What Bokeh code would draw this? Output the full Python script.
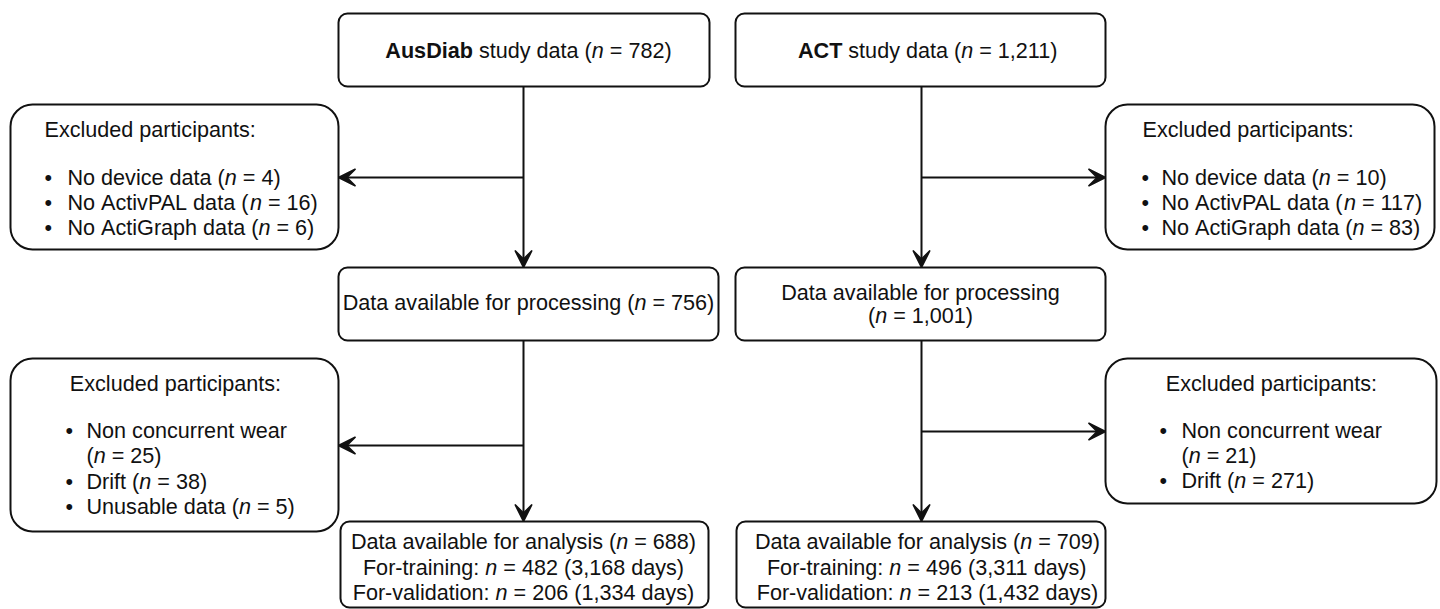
from bokeh.plotting import figure
from bokeh.models import ColumnDataSource, Range1d, Arrow, VeeHead
from bokeh.core.properties import value, field
from bokeh.embed import file_html
from bokeh.resources import INLINE

# ---------------- data ----------------
studies = ["AusDiab", "ACT"]
n_total = [782, 1211]
excl1_reasons = ["No device data", "No ActivPAL data", "No ActiGraph data"]
excl1_ausdiab = [4, 16, 6]
excl1_act = [10, 117, 83]
n_processing = [756, 1001]
excl2_reasons_ausdiab = ["Non concurrent wear", "Drift", "Unusable data"]
excl2_ausdiab = [25, 38, 5]
excl2_reasons_act = ["Non concurrent wear", "Drift"]
excl2_act = [21, 271]
n_analysis = [688, 709]
n_training = [482, 496]
days_training = [3168, 3311]
n_validation = [206, 213]
days_validation = [1334, 1432]

# ---------------- layout ----------------
W, H = 1440, 609
X0, X1 = 0, 1440
Y0, Y1 = 0, 609
SX = W / (X1 - X0)
FS = 21.6
FONT = "Liberation Sans"
INK = "#111111"

NORMAL = {' ': 278, '\u00a0': 278, '(': 333, ')': 333, ',': 278, '-': 333, '.': 278, ':': 278, '=': 584,
          '\u2022': 350,
          'A': 667, 'B': 667, 'C': 722, 'D': 722, 'E': 667, 'F': 611, 'G': 778, 'H': 722, 'I': 278,
          'J': 500, 'K': 667, 'L': 556, 'M': 833, 'N': 722, 'O': 778, 'P': 667, 'Q': 778, 'R': 722,
          'S': 667, 'T': 611, 'U': 722, 'V': 667, 'W': 944, 'X': 667, 'Y': 667, 'Z': 611,
          'a': 556, 'b': 556, 'c': 500, 'd': 556, 'e': 556, 'f': 278, 'g': 556, 'h': 556, 'i': 222,
          'j': 222, 'k': 500, 'l': 222, 'm': 833, 'n': 556, 'o': 556, 'p': 556, 'q': 556, 'r': 333,
          's': 500, 't': 278, 'u': 556, 'v': 500, 'w': 722, 'x': 500, 'y': 500, 'z': 500}
for d in "0123456789":
    NORMAL[d] = 556
BOLD = {'A': 722, 'C': 722, 'D': 722, 'T': 611, 'a': 556, 'b': 611, 'i': 278, 's': 556, 'u': 611}


def seg_w(text, style):
    tot = 0
    for ch in text:
        if style == "bold" and ch in BOLD:
            tot += BOLD[ch]
        else:
            tot += NORMAL.get(ch, 556)
    return tot * FS / 1000 / SX


def line_w(segs):
    return sum(seg_w(t, s) for t, s in segs)


# main boxes: left, right, top, bottom, text centre x, line y positions
main_layout = [
    dict(l=338, r=709, t=13, b=86, cx=528, ys=[50]),
    dict(l=735, r=1105, t=13, b=86, cx=928, ys=[50]),
    dict(l=338, r=718, t=267, b=340, cx=528, ys=[302]),
    dict(l=735, r=1105, t=267, b=340, cx=920, ys=[292, 315]),
    dict(l=340, r=708, t=521, b=607, cx=523, ys=[541, 567, 592]),
    dict(l=736, r=1105, t=521, b=607, cx=927, ys=[541, 567, 592]),
]
excl_layout = [
    dict(l=10, r=338, t=104, b=249, tx=44, talign="left", ty=129, bx=44, x=67, y=177, dy=25),
    dict(l=1105, r=1434, t=104, b=249, tx=1142, talign="left", ty=129, bx=1141, x=1161, y=177, dy=25),
    dict(l=10, r=338, t=358, b=531, tx=175, talign="center", ty=383, bx=65, x=86, y=430, dy=25.3),
    dict(l=1105, r=1436, t=358, b=503, tx=1271, talign="center", ty=383, bx=1159, x=1181, y=430, dy=25),
]
branch_x = [523, 921]
branch_y = [[177, 445], [177, 431]]

# ---------------- texts ----------------
tx, ty, tt, ts = [], [], [], []


def put(segs, x, y, align="left"):
    if align == "center":
        x = x - line_w(segs) / 2
    for t, s in segs:
        tx.append(x); ty.append(y); tt.append(t.replace(" ", "\u00a0")); ts.append(s)
        x += seg_w(t, s)


main_lines = []
for i, st in enumerate(studies):
    main_lines.append([[(st, "bold"), (" study data (", "normal"), ("n", "italic"),
                        (f" = {n_total[i]:,})", "normal")]])
for i, st in enumerate(studies):
    full = [("Data available for processing (", "normal"), ("n", "italic"),
            (f" = {n_processing[i]:,})", "normal")]
    lay = main_layout[2 + i]
    if line_w(full) > (lay["r"] - lay["l"]) - 6:
        main_lines.append([[("Data available for processing", "normal")],
                           [("(", "normal"), ("n", "italic"), (f" = {n_processing[i]:,})", "normal")]])
    else:
        main_lines.append([full])
for i, st in enumerate(studies):
    main_lines.append([
        [("Data available for analysis (", "normal"), ("n", "italic"), (f" = {n_analysis[i]:,})", "normal")],
        [("For-training: ", "normal"), ("n", "italic"),
         (f" = {n_training[i]:,} ({days_training[i]:,} days)", "normal")],
        [("For-validation: ", "normal"), ("n", "italic"),
         (f" = {n_validation[i]:,} ({days_validation[i]:,} days)", "normal")],
    ])

for lay, lines in zip(main_layout, main_lines):
    for segs, y in zip(lines, lay["ys"]):
        put(segs, lay["cx"], y, "center")

excl_items = [
    (excl1_reasons, excl1_ausdiab),
    (excl1_reasons, excl1_act),
    (excl2_reasons_ausdiab, excl2_ausdiab),
    (excl2_reasons_act, excl2_act),
]
for lay, (reasons, counts) in zip(excl_layout, excl_items):
    put([("Excluded participants:", "normal")], lay["tx"], lay["ty"], lay["talign"])
    y = lay["y"]
    for reason, c in zip(reasons, counts):
        put([("\u2022", "normal")], lay["bx"], y)
        full = [(reason + " (", "normal"), ("n", "italic"), (f" = {c:,})", "normal")]
        if lay["x"] + line_w(full) > lay["r"] - 8:
            put([(reason, "normal")], lay["x"], y)
            y += lay["dy"]
            put([("(", "normal"), ("n", "italic"), (f" = {c:,})", "normal")], lay["x"], y)
        else:
            put(full, lay["x"], y)
        y += lay["dy"]

# ---------------- figure ----------------
p = figure(width=W, height=H, x_range=Range1d(X0, X1), y_range=Range1d(Y1, Y0),
           output_backend="svg", toolbar_location=None, min_border=0,
           x_axis_location=None, y_axis_location=None)
p.grid.visible = False
p.outline_line_color = None
p.background_fill_color = "white"
p.border_fill_color = "white"

main_src = ColumnDataSource(dict(l=[b["l"] for b in main_layout], r=[b["r"] for b in main_layout],
                                 t=[b["t"] for b in main_layout], b=[b["b"] for b in main_layout]))
excl_src = ColumnDataSource(dict(l=[b["l"] for b in excl_layout], r=[b["r"] for b in excl_layout],
                                 t=[b["t"] for b in excl_layout], b=[b["b"] for b in excl_layout]))
p.quad(left="l", right="r", top="t", bottom="b", source=main_src, fill_color="white",
       line_color=INK, line_width=2, border_radius=9)
p.quad(left="l", right="r", top="t", bottom="b", source=excl_src, fill_color="white",
       line_color=INK, line_width=2, border_radius=22)

# arrows derived from the box layout
ax0, ay0, ax1, ay1 = [], [], [], []
for side in range(2):
    bx = branch_x[side]
    for step in range(2):
        src_box = main_layout[2 * step + side]
        dst_box = main_layout[2 * (step + 1) + side]
        ax0.append(bx); ay0.append(src_box["b"]); ax1.append(bx); ay1.append(dst_box["t"])
        ex = excl_layout[2 * step + side]
        target = ex["r"] if side == 0 else ex["l"]
        ax0.append(bx); ay0.append(branch_y[side][step]); ax1.append(target); ay1.append(branch_y[side][step])
arr_src = ColumnDataSource(dict(x0=ax0, y0=ay0, x1=ax1, y1=ay1))
p.add_layout(Arrow(x_start="x0", y_start="y0", x_end="x1", y_end="y1", source=arr_src,
                   line_width=2, line_color=INK,
                   end=VeeHead(size=17, fill_color=INK, fill_alpha=1.0, line_color=INK, line_width=1.5)))

txt_src = ColumnDataSource(dict(x=tx, y=ty, text=tt, style=ts))
p.text(x="x", y="y", text="text", source=txt_src, text_font=value(FONT),
       text_font_size=f"{FS}px", text_font_style=field("style"), text_align="left",
       text_baseline="middle", text_color=INK)

open("out.html", "w").write(file_html(p, INLINE))
